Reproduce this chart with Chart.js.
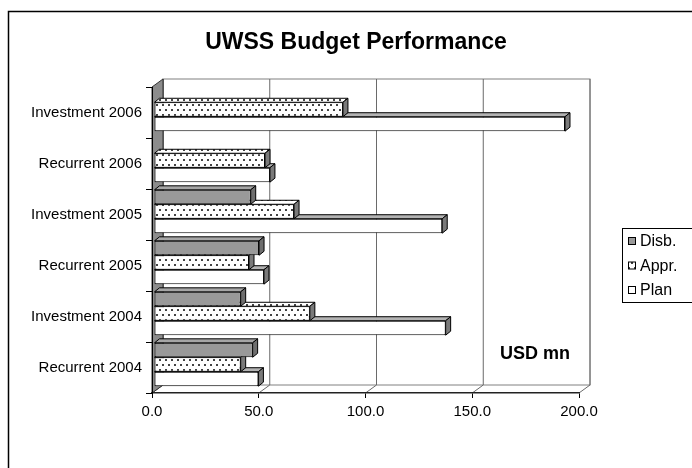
<!DOCTYPE html>
<html>
<head>
<meta charset="utf-8">
<script src="https://cdn.jsdelivr.net/npm/chart.js@4.4.0/dist/chart.umd.min.js"></script>
<style>
  html, body { margin: 0; padding: 0; background: #fff; }
</style>
</head>
<body>
<canvas id="myChart" width="692" height="468"></canvas>
<script>
// values, USD mn
var categories = ["Investment 2006", "Recurrent 2006", "Investment 2005",
                  "Recurrent 2005", "Investment 2004", "Recurrent 2004"];
var disb = [null, null, 45.3, 49.2, 40.6, 46.2];
var appr = [88.5, 52.0, 65.6, 44.5, 73.0, 40.6];
var plan = [192.5, 54.3, 135.0, 51.5, 136.6, 48.9];
var x_ticks = [0, 50, 100, 150, 200];
var series_names = ["Disb.", "Appr.", "Plan"];

var FONT = "'Liberation Sans', Arial, sans-serif";
var DX = 11, DY = -8;   // depth of the walls
var BX = 5, BY = -4;    // depth of a bar

var canvas = document.getElementById("myChart");
var ctx = canvas.getContext("2d");

function dot_pattern(){
  var c = document.createElement("canvas");
  c.width = 6; c.height = 10;
  var g = c.getContext("2d");
  g.fillStyle = "#fff"; g.fillRect(0, 0, 6, 10);
  g.fillStyle = "#444";
  g.fillRect(1, 2, 2, 2);
  g.fillRect(4, 7, 2, 2);
  return ctx.createPattern(c, "repeat");
}
var dots = dot_pattern();

// back wall, floor and left wall behind the bars
var walls = {
  id: "walls",
  beforeDatasetsDraw: function(chart){
    var a = chart.chartArea, c = chart.ctx, xs = chart.scales.x;
    c.save();
    c.lineWidth = 1;
    // back wall
    c.strokeStyle = "#808080";
    c.strokeRect(a.left + DX, a.top + DY, a.right - a.left, a.bottom - a.top);
    // gridlines on the wall and on the floor
    x_ticks.forEach(function(v){
      var px = xs.getPixelForValue(v);
      c.beginPath();
      c.moveTo(px + DX, a.top + DY);
      c.lineTo(px + DX, a.bottom + DY);
      c.lineTo(px, a.bottom);
      c.strokeStyle = v == 0 ? "#333" : "#6a6a6a";
      c.stroke();
    });
    // left wall
    c.beginPath();
    c.moveTo(a.left, a.top);
    c.lineTo(a.left + DX, a.top + DY);
    c.lineTo(a.left + DX, a.bottom + DY);
    c.lineTo(a.left, a.bottom);
    c.closePath();
    c.fillStyle = "#8c8c8c";
    c.fill();
    c.strokeStyle = "#333";
    c.stroke();
    c.restore();
  }
};

// top and end faces of every bar
var bars3d = {
  id: "bars3d",
  beforeDatasetDraw: function(chart){
    chart.ctx.save();
    chart.ctx.translate(2, -3);
  },
  afterDatasetDraw: function(chart, args){
    var c = chart.ctx;
    var ds = chart.data.datasets[args.index];
    args.meta.data.forEach(function(bar, i){
      if (ds.data[i] == null) return;
      var p = bar.getProps(["x", "y", "base", "height"], true);
      var top = p.y - p.height / 2, bot = p.y + p.height / 2;
      c.lineWidth = 1;
      c.strokeStyle = "#000";
      c.beginPath();
      c.moveTo(p.base, top);
      c.lineTo(p.x, top);
      c.lineTo(p.x + BX, top + BY);
      c.lineTo(p.base + BX, top + BY);
      c.closePath();
      c.fillStyle = ds.topColor;
      c.fill(); c.stroke();
      c.beginPath();
      c.moveTo(p.x, top);
      c.lineTo(p.x + BX, top + BY);
      c.lineTo(p.x + BX, bot + BY);
      c.lineTo(p.x, bot);
      c.closePath();
      c.fillStyle = ds.sideColor;
      c.fill(); c.stroke();
    });
    c.restore();
  }
};

// title, unit note, legend box and outer frame
var extras = {
  id: "extras",
  afterDraw: function(chart){
    var c = chart.ctx;
    c.save();
    c.fillStyle = "#000";
    c.textBaseline = "alphabetic";
    c.textAlign = "center";
    c.font = "bold 23px " + FONT;
    c.fillText("UWSS Budget Performance", 356, 49);
    c.textAlign = "left";
    c.font = "bold 18px " + FONT;
    c.fillText("USD mn", 500, 359);

    // legend
    c.lineWidth = 1;
    c.strokeStyle = "#000";
    c.strokeRect(622.5, 228.5, 90, 74);
    c.font = "16px " + FONT;
    c.textBaseline = "middle";
    chart.data.datasets.forEach(function(ds, i){
      var y = 241 + i * 24.5;
      c.fillStyle = ds.backgroundColor;
      c.fillRect(628.5, y - 3.5, 7, 7);
      c.strokeRect(628.5, y - 3.5, 7, 7);
      c.fillStyle = "#000";
      c.fillText(ds.label, 640, y + 1);
    });

    c.lineWidth = 1.5;
    c.strokeRect(8.5, 11.5, 720, 500);
    c.restore();
  }
};

var chart = new Chart(canvas, {
  type: "bar",
  data: {
    labels: categories,
    datasets: [
      { label: series_names[0], data: disb, backgroundColor: "#999999",
        topColor: "#a6a6a6", sideColor: "#6e6e6e" },
      { label: series_names[1], data: appr, backgroundColor: dots,
        topColor: dots, sideColor: "#7a7a7a" },
      { label: series_names[2], data: plan, backgroundColor: "#ffffff",
        topColor: "#b3b3b3", sideColor: "#7a7a7a" }
    ].map(function(d){
      d.borderColor = "#000";
      d.borderWidth = 1;
      d.borderSkipped = false;
      d.clip = false;
      d.categoryPercentage = 0.85;
      d.barPercentage = 1.0;
      return d;
    })
  },
  options: {
    indexAxis: "y",
    responsive: false,
    animation: false,
    devicePixelRatio: 1,
    layout: { padding: { top: 87, right: 113, left: 0, bottom: 0 } },
    plugins: {
      legend: { display: false },
      title: { display: false },
      tooltip: { enabled: false }
    },
    scales: {
      x: {
        min: 0, max: 200,
        afterFit: function(s){ s.height = 75; },
        afterBuildTicks: function(s){
          s.ticks = x_ticks.map(function(v){ return { value: v }; });
        },
        ticks: {
          color: "#000", padding: 5, z: 1,
          font: { family: FONT, size: 15 },
          callback: function(v){ return Number(v).toFixed(1); }
        },
        grid: { drawOnChartArea: false, tickLength: 5, color: "#000", z: 1 },
        border: { color: "#222", width: 1.5, z: 1 }
      },
      y: {
        afterFit: function(s){ s.width = 152; },
        ticks: {
          color: "#000", padding: 4, z: 1,
          font: { family: FONT, size: 15 }
        },
        grid: { offset: true, drawOnChartArea: false, tickLength: 6, color: "#000", z: 1 },
        border: { color: "#000", z: 1 }
      }
    }
  },
  plugins: [walls, bars3d, extras]
});
</script>
</body>
</html>
